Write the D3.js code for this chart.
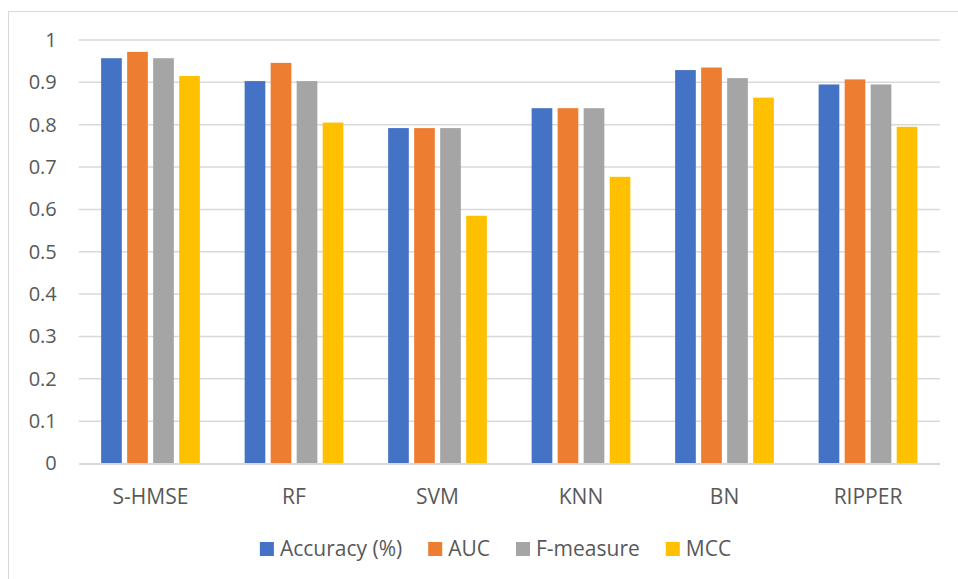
<!DOCTYPE html>
<html>
<head>
<meta charset="utf-8">
<script src="https://cdn.jsdelivr.net/npm/d3@7/dist/d3.min.js"></script>
<style>
  html, body { margin: 0; padding: 0; background: #fff; }
  svg { display: block; font-family: "Open Sans", sans-serif; }
</style>
</head>
<body>
<svg id="chart" width="958" height="579"></svg>
<script>
// Classifier comparison data
const categories = ["S-HMSE", "RF", "SVM", "KNN", "BN", "RIPPER"];
const seriesNames = ["Accuracy (%)", "AUC", "F-measure", "MCC"];
const seriesColors = ["#4472C4", "#ED7D31", "#A5A5A5", "#FFC000"];
const accuracy = [0.957, 0.903, 0.792, 0.839, 0.929, 0.895];
const auc      = [0.972, 0.946, 0.792, 0.839, 0.935, 0.907];
const fMeasure = [0.957, 0.903, 0.792, 0.839, 0.910, 0.895];
const mcc      = [0.915, 0.805, 0.585, 0.677, 0.864, 0.795];
const yTicks = [0, 0.1, 0.2, 0.3, 0.4, 0.5, 0.6, 0.7, 0.8, 0.9, 1];

const seriesValues = [accuracy, auc, fMeasure, mcc];

const svg = d3.select("#chart");
const textColor = "#595959";
const gridColor = "#D9D9D9";

// Chart frame
svg.append("rect")
  .attr("x", 8.5).attr("y", 11.5)
  .attr("width", 1000).attr("height", 1000)
  .attr("fill", "none")
  .attr("stroke", "#D9D9D9")
  .attr("stroke-width", 1);

const plot = { left: 78.75, right: 939.75, top: 40, bottom: 463.5 };

const x0 = d3.scaleBand()
  .domain(categories)
  .range([plot.left, plot.right])
  .paddingInner(0.312)
  .paddingOuter(0.156);

const x1 = d3.scaleBand()
  .domain(seriesNames)
  .range([0, x0.bandwidth()])
  .paddingInner(0.205)
  .paddingOuter(0);

const y = d3.scaleLinear().domain([0, 1]).range([plot.bottom, plot.top]);

// Gridlines
svg.append("g")
  .selectAll("line")
  .data(yTicks.filter(t => t > 0))
  .join("line")
  .attr("x1", plot.left).attr("x2", plot.right)
  .attr("y1", d => y(d)).attr("y2", d => y(d))
  .attr("stroke", gridColor)
  .attr("stroke-width", 1.5);

// Y tick labels
const yAxis = d3.axisLeft(y).tickValues(yTicks).tickFormat(d3.format("~g")).tickSize(0).tickPadding(0);
const yg = svg.append("g")
  .attr("transform", `translate(${plot.left - 22},0)`)
  .call(yAxis);
yg.select(".domain").remove();
yg.selectAll("text")
  .attr("fill", textColor)
  .attr("font-size", 20)
  .attr("font-family", "'Open Sans', sans-serif");

// Bars
const groups = svg.append("g")
  .selectAll("g")
  .data(categories)
  .join("g")
  .attr("transform", d => `translate(${x0(d)},0)`);

groups.selectAll("rect")
  .data((c, i) => seriesNames.map((s, k) => ({ series: s, value: seriesValues[k][i], color: seriesColors[k] })))
  .join("rect")
  .attr("x", d => x1(d.series))
  .attr("width", x1.bandwidth())
  .attr("y", d => y(d.value))
  .attr("height", d => y(0) - y(d.value))
  .attr("fill", d => d.color);

// Category axis
const xAxis = d3.axisBottom(x0).tickSize(0).tickPadding(0);
const xg = svg.append("g")
  .attr("transform", `translate(0,${plot.bottom})`)
  .call(xAxis);
xg.select(".domain")
  .attr("stroke", gridColor)
  .attr("stroke-width", 2);
xg.selectAll("text")
  .attr("fill", textColor)
  .attr("font-size", 21)
  .attr("font-family", "'Open Sans', sans-serif")
  .attr("y", 40)
  .attr("dy", 0);

// Legend
const legend = svg.append("g");
const items = legend.selectAll("g")
  .data(seriesNames)
  .join("g");
items.append("rect")
  .attr("width", 14).attr("height", 14)
  .attr("y", -14)
  .attr("fill", (d, i) => seriesColors[i]);
items.append("text")
  .attr("x", 20)
  .attr("y", 0)
  .attr("fill", textColor)
  .attr("font-size", 21)
  .text(d => d);

const widths = [];
items.each(function () {
  const w = 20 + d3.select(this).select("text").node().getComputedTextLength();
  widths.push(w);
});
const gap = 26;
const total = d3.sum(widths) + gap * (widths.length - 1);
const startX = 495.5 - total / 2;
items.attr("transform", (d, i) => {
  const xPos = startX + d3.sum(widths.slice(0, i)) + gap * i;
  return `translate(${xPos},556)`;
});
</script>
</body>
</html>
